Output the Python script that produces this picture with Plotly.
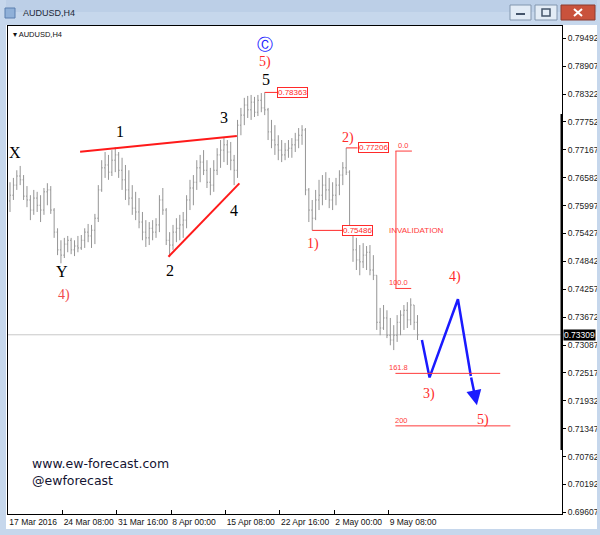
import plotly.graph_objects as go

# ---------------- data (AUDUSD H4) ----------------
highs = [0.7649, 0.7658, 0.7674, 0.7683, 0.7664, 0.7641, 0.7622, 0.7633, 0.7629, 0.7622,
         0.7637, 0.7647, 0.7641, 0.7595, 0.7553, 0.7528, 0.7533, 0.7537, 0.7533, 0.7528,
         0.7537, 0.7539, 0.7553, 0.7562, 0.7560, 0.7583, 0.7643, 0.7695, 0.7712, 0.7706,
         0.7716, 0.7722, 0.7712, 0.7700, 0.7685, 0.7674, 0.7643, 0.7629, 0.7616, 0.7587,
         0.7570, 0.7566, 0.7570, 0.7574, 0.7622, 0.7637, 0.7595, 0.7545, 0.7560, 0.7574,
         0.7581, 0.7587, 0.7622, 0.7654, 0.7664, 0.7695, 0.7706, 0.7716, 0.7695, 0.7679,
         0.7695, 0.7720, 0.7737, 0.7741, 0.7737, 0.7733, 0.7706, 0.7779, 0.7804, 0.7825,
         0.7829, 0.7831, 0.7827, 0.7831, 0.7835, 0.78363, 0.7804, 0.7779, 0.7768, 0.7747,
         0.7737, 0.7731, 0.7737, 0.7741, 0.7752, 0.7762, 0.7768, 0.7762, 0.7637, 0.7612,
         0.7633, 0.7654, 0.7664, 0.7670, 0.7658, 0.7649, 0.7658, 0.7674, 0.7691, 0.77206,
         0.7674, 0.7545, 0.7533, 0.7518, 0.7522, 0.7516, 0.7518, 0.7497, 0.7455, 0.7387,
         0.7393, 0.7382, 0.7366, 0.7351, 0.7372, 0.7382, 0.7393, 0.7399, 0.7407, 0.7393,
         0.7372]
lows = [0.7587, 0.7612, 0.7633, 0.7643, 0.7612, 0.7597, 0.7570, 0.7581, 0.7587, 0.7566,
        0.7581, 0.7601, 0.7583, 0.7533, 0.7497, 0.7480, 0.7491, 0.7503, 0.7499, 0.7495,
        0.7503, 0.7508, 0.7512, 0.7524, 0.7512, 0.7520, 0.7566, 0.7629, 0.7658, 0.7654,
        0.7662, 0.7670, 0.7658, 0.7633, 0.7612, 0.7601, 0.7581, 0.7570, 0.7553, 0.7528,
        0.7514, 0.7518, 0.7528, 0.7533, 0.7545, 0.7581, 0.7518, 0.7493, 0.7508, 0.7524,
        0.7528, 0.7533, 0.7553, 0.7591, 0.7601, 0.7633, 0.7649, 0.7664, 0.7637, 0.7622,
        0.7629, 0.7664, 0.7679, 0.7691, 0.7685, 0.7674, 0.7643, 0.7658, 0.7747, 0.7768,
        0.7783, 0.7779, 0.7785, 0.7787, 0.7795, 0.7789, 0.7737, 0.7720, 0.7706, 0.7695,
        0.7691, 0.7695, 0.7700, 0.7700, 0.7712, 0.7720, 0.7727, 0.7622, 0.7566, 0.75486,
        0.7570, 0.7591, 0.7601, 0.7612, 0.7595, 0.7591, 0.7601, 0.7622, 0.7643, 0.7664,
        0.7539, 0.7483, 0.7466, 0.7455, 0.7470, 0.7466, 0.7455, 0.7445, 0.7341, 0.7330,
        0.7341, 0.7324, 0.7309, 0.7299, 0.7316, 0.7330, 0.7341, 0.7345, 0.7351, 0.7341,
        0.7320]
closes = [0.7622, 0.7643, 0.7662, 0.7654, 0.7620, 0.7612, 0.7591, 0.7616, 0.7601, 0.7591,
          0.7629, 0.7633, 0.7591, 0.7545, 0.7508, 0.7497, 0.7520, 0.7528, 0.7508, 0.7516,
          0.7512, 0.7528, 0.7545, 0.7537, 0.7549, 0.7574, 0.7633, 0.7679, 0.7685, 0.7670,
          0.7695, 0.7706, 0.7674, 0.7654, 0.7633, 0.7616, 0.7595, 0.7587, 0.7566, 0.7545,
          0.7533, 0.7553, 0.7545, 0.7560, 0.7612, 0.7591, 0.7528, 0.7518, 0.7545, 0.7553,
          0.7560, 0.7570, 0.7612, 0.7637, 0.7649, 0.7679, 0.7691, 0.7674, 0.7649, 0.7643,
          0.7674, 0.7706, 0.7716, 0.7727, 0.7712, 0.7695, 0.7674, 0.7768, 0.7789, 0.7810,
          0.7800, 0.7816, 0.7795, 0.7820, 0.7804, 0.7800, 0.7754, 0.7737, 0.7727, 0.7716,
          0.7706, 0.7716, 0.7720, 0.7727, 0.7737, 0.7747, 0.7758, 0.7633, 0.7591, 0.7574,
          0.7612, 0.7622, 0.7643, 0.7633, 0.7612, 0.7622, 0.7643, 0.7664, 0.7679, 0.7670,
          0.7553, 0.7508, 0.7487, 0.7483, 0.7497, 0.7503, 0.7466, 0.7455, 0.7357, 0.7345,
          0.7366, 0.7330, 0.7320, 0.7330, 0.7357, 0.7372, 0.7382, 0.7362, 0.7393, 0.7357,
          0.73309]
first_open = 0.7610

price_ticks = [0.79492, 0.78907, 0.78322, 0.77752, 0.77167, 0.76582, 0.75997, 0.75427,
               0.74842, 0.74257, 0.73672, 0.73087, 0.72517, 0.71932, 0.71347, 0.70762,
               0.70192, 0.69607]
time_tick_idx = [0, 32, 64, 96, 128, 160, 192, 224]
time_tick_labels = ["17 Mar 2016", "24 Mar 08:00", "31 Mar 16:00", "8 Apr 00:00",
                    "15 Apr 08:00", "22 Apr 16:00", "2 May 00:00", "9 May 08:00"]

last_price = 0.73309
wave5_high = 0.78363
wave1_low = 0.75486
wave2_high = 0.77206

fib_levels = [0.0, 100.0, 161.8, 200.0]
fib_top = 0.7714
fib_range = 0.02865

# projected path (bar-index, price)
proj_x = [243.6, 248.1, 264.8, 272.4]
proj_y = [0.7320, 0.7242, 0.7405, 0.7245]
proj_end = (276.0, 0.7184)

# ---------------- figure ----------------
opens = [first_open] + closes[:-1]
bar_x = [2 * k + 1 for k in range(len(closes))]

RED = "#ff2a2a"
LRED = "#ff3b3b"
BLUE = "#1a1aff"

fig = go.Figure()
fig.add_trace(go.Ohlc(
    x=bar_x, open=opens, high=highs, low=lows, close=closes,
    increasing=dict(line=dict(color="#959595", width=1)),
    decreasing=dict(line=dict(color="#959595", width=1)),
    tickwidth=0.3, showlegend=False, hoverinfo="skip"))

fig.add_trace(go.Scatter(x=proj_x, y=proj_y, mode="lines",
                         line=dict(color=BLUE, width=2.5), showlegend=False,
                         hoverinfo="skip"))


def px(x):
    return (x - 8) / 554


def py(y):
    return (514 - y) / 488


shapes = []
# window frame
FRAME = "#c6d7ec"
shapes.append(dict(type="rect", xref="paper", yref="paper", x0=px(0), x1=px(600),
                   y0=py(25), y1=py(0), fillcolor=FRAME, line=dict(width=0)))
shapes.append(dict(type="rect", xref="paper", yref="paper", x0=px(0), x1=px(600),
                   y0=py(12), y1=py(0), fillcolor="#bccfe7", line=dict(width=0)))
shapes.append(dict(type="rect", xref="paper", yref="paper", x0=px(0), x1=px(6),
                   y0=py(535), y1=py(0), fillcolor=FRAME, line=dict(width=0)))
shapes.append(dict(type="rect", xref="paper", yref="paper", x0=px(597), x1=px(600),
                   y0=py(535), y1=py(0), fillcolor=FRAME, line=dict(width=0)))
shapes.append(dict(type="rect", xref="paper", yref="paper", x0=px(0), x1=px(600),
                   y0=py(535), y1=py(529), fillcolor=FRAME, line=dict(width=0)))
# window icon + buttons
shapes.append(dict(type="rect", xref="paper", yref="paper", x0=px(5), x1=px(15),
                   y0=py(18), y1=py(8), fillcolor="#8fb0d8", line=dict(color="#5a7fae", width=1)))
shapes.append(dict(type="rect", xref="paper", yref="paper", x0=px(510), x1=px(531),
                   y0=py(20), y1=py(5), fillcolor="#e3ecf6", line=dict(color="#8296ae", width=1)))
shapes.append(dict(type="rect", xref="paper", yref="paper", x0=px(535), x1=px(557),
                   y0=py(20), y1=py(5), fillcolor="#e3ecf6", line=dict(color="#8296ae", width=1)))
shapes.append(dict(type="rect", xref="paper", yref="paper", x0=px(561), x1=px(595),
                   y0=py(20), y1=py(5), fillcolor="#c9523c", line=dict(color="#8a3a2e", width=1)))
shapes.append(dict(type="line", xref="paper", yref="paper", x0=px(516), x1=px(525),
                   y0=py(14), y1=py(14), line=dict(color="#44546a", width=2)))
shapes.append(dict(type="rect", xref="paper", yref="paper", x0=px(542), x1=px(550),
                   y0=py(16), y1=py(9), line=dict(color="#44546a", width=1.5)))
shapes.append(dict(type="line", xref="paper", yref="paper", x0=px(574), x1=px(582),
                   y0=py(9), y1=py(16), line=dict(color="white", width=2)))
shapes.append(dict(type="line", xref="paper", yref="paper", x0=px(574), x1=px(582),
                   y0=py(16), y1=py(9), line=dict(color="white", width=2)))
# right thick edge marker
shapes.append(dict(type="rect", xref="paper", yref="paper", x0=px(560.5), x1=px(563),
                   y0=py(450), y1=py(114), fillcolor="black", line=dict(width=0)))

# current price line
shapes.append(dict(type="line", xref="paper", yref="y", x0=0, x1=1,
                   y0=last_price, y1=last_price, line=dict(color="#c8c8c8", width=1),
                   layer="below"))

# trendlines
shapes.append(dict(type="line", x0=42.3, y0=0.77127, x1=134.6, y1=0.77454,
                   line=dict(color="#ff1a1a", width=2)))
shapes.append(dict(type="line", x0=94.3, y0=0.74936, x1=136.1, y1=0.76467,
                   line=dict(color="#ff1a1a", width=2)))

# price-box connectors
shapes.append(dict(type="line", x0=151, y0=wave5_high, x1=158.5, y1=wave5_high,
                   line=dict(color=RED, width=1)))
shapes.append(dict(type="line", x0=199, y0=wave2_high, x1=205.7, y1=wave2_high,
                   line=dict(color=RED, width=1)))
shapes.append(dict(type="line", x0=179, y0=wave1_low, x1=196.5, y1=wave1_low,
                   line=dict(color=RED, width=1)))

# fibonacci extension
fib_prices = [fib_top - lv / 100.0 * fib_range for lv in fib_levels]
fib_right = [237.7, 237.3, 289.7, 295.7]
shapes.append(dict(type="line", x0=228.3, x1=228.3, y0=fib_prices[0], y1=fib_prices[1],
                   line=dict(color=LRED, width=1)))
for p, xr in zip(fib_prices, fib_right):
    shapes.append(dict(type="line", x0=228.0, x1=xr, y0=p, y1=p,
                       line=dict(color=LRED, width=1)))

annotations = []


def txt(x, y, t, size, color, family="Liberation Serif", **kw):
    d = dict(x=x, y=y, text=t, showarrow=False,
             font=dict(size=size, color=color, family=family))
    d.update(kw)
    annotations.append(d)


# wave labels
txt(3.9, 0.7710, "X", 16, "black")
txt(31.6, 0.7462, "Y", 16, "black")
txt(33.0, 0.7414, "4)", 14, "#f24a4a")
txt(65.8, 0.7754, "1", 16, "black")
txt(95.2, 0.7465, "2", 16, "black")
txt(127.1, 0.7783, "3", 16, "black")
txt(133.2, 0.7590, "4", 16, "black")
txt(152.0, 0.7864, "5", 16, "black")
txt(151.0, 0.7899, "5)", 14, RED)
txt(151.0, 0.7937, "Ⓒ", 16, BLUE, family="DejaVu Sans")
txt(199.8, 0.7742, "2)", 14, RED)
txt(179.6, 0.7521, "1)", 14, RED)
txt(247.9, 0.7207, "3)", 14, RED)
txt(262.8, 0.7451, "4)", 14, RED)
txt(279.3, 0.7154, "5)", 14, RED)

# price boxes
for xb, pv in [(158.5, wave5_high), (205.7, wave2_high), (196.5, wave1_low)]:
    annotations.append(dict(x=xb, y=pv, text=f"{pv:.5f}", showarrow=False,
                            xanchor="left", yanchor="middle",
                            font=dict(size=8, color=RED, family="Liberation Sans"),
                            bgcolor="white", bordercolor=RED, borderwidth=1, borderpad=0))
txt(222.8, wave1_low, "INVALIDATION", 8, LRED, family="Liberation Sans",
    xanchor="left", yanchor="middle")

# fib labels
for lv, p in zip(fib_levels, fib_prices):
    lab = "200" if lv == 200.0 else f"{lv:.1f}"
    txt(236.7, p, lab, 7.5, LRED, family="Liberation Sans",
        xanchor="right", yanchor="bottom", yshift=-1)

# projection arrow head
annotations.append(dict(x=proj_end[0], y=proj_end[1], ax=proj_x[-1], ay=proj_y[-1],
                        axref="x", ayref="y", xref="x", yref="y", text="",
                        showarrow=True, arrowhead=2, arrowsize=1.2, arrowwidth=2.5,
                        arrowcolor=BLUE))

# current price tag
annotations.append(dict(xref="paper", yref="y", x=px(563), y=last_price,
                        text=f"{last_price:.5f}", showarrow=False, xanchor="left",
                        yanchor="middle", bgcolor="black", borderpad=0,
                        font=dict(size=8.5, color="white", family="Liberation Sans")))

# watermark
annotations.append(dict(xref="paper", yref="paper", x=px(30), y=py(463),
                        text="www.ew-forecast.com", showarrow=False, xanchor="left",
                        yanchor="middle",
                        font=dict(size=12.5, color="#141432", family="DejaVu Sans")))
annotations.append(dict(xref="paper", yref="paper", x=px(30), y=py(480),
                        text="@ewforecast", showarrow=False, xanchor="left",
                        yanchor="middle",
                        font=dict(size=12.5, color="#141432", family="DejaVu Sans")))

# window / chart titles
annotations.append(dict(xref="paper", yref="paper", x=px(21), y=py(13),
                        text="AUDUSD,H4", showarrow=False, xanchor="left",
                        yanchor="middle",
                        font=dict(size=9, color="#1c2838", family="Liberation Sans")))
annotations.append(dict(xref="paper", yref="paper", x=px(11), y=py(34),
                        text="▾ AUDUSD,H4", showarrow=False, xanchor="left",
                        yanchor="middle",
                        font=dict(size=7.5, color="#111111", family="Liberation Sans")))

fig.update_layout(
    width=600, height=535,
    margin=dict(l=8, r=38, t=26, b=21, autoexpand=False),
    paper_bgcolor="white", plot_bgcolor="white",
    shapes=shapes, annotations=annotations, showlegend=False,
    xaxis=dict(range=[-0.18, 326.1], tickvals=time_tick_idx, ticktext=time_tick_labels,
               ticks="inside", ticklen=4, tickcolor="black", tickangle=0,
               ticklabelposition="outside right", automargin=False,
               tickfont=dict(size=8.5, color="#111111", family="Liberation Sans"),
               showgrid=False, zeroline=False, showline=True, mirror=True,
               linecolor="black", linewidth=1, rangeslider=dict(visible=False),
               fixedrange=True),
    yaxis=dict(range=[0.69572, 0.79748], side="right", tickvals=price_ticks,
               ticktext=[f"{v:.5f}" for v in price_ticks], automargin=False,
               ticks="outside", ticklen=3, tickcolor="black",
               tickfont=dict(size=8.5, color="#222222", family="Liberation Sans"),
               showgrid=False, zeroline=False, showline=True, mirror=True,
               linecolor="black", linewidth=1, fixedrange=True),
)

fig.write_html("out.html", config={"displayModeBar": False},
               post_script="document.body.style.margin='0';document.body.style.overflow='hidden';")
